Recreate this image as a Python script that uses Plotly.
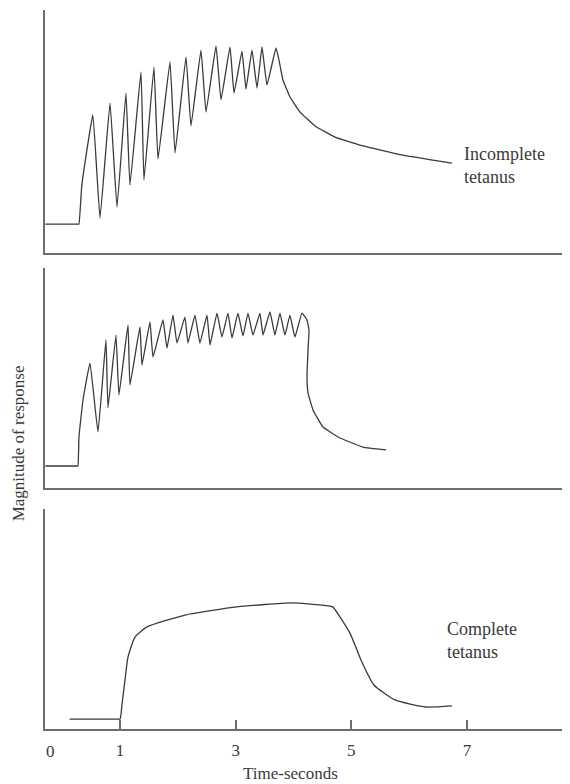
import plotly.graph_objects as go

# time axis (seconds) and magnitude of response (arbitrary units, 0-100 per panel)
t_incomplete = [-0.29, 0.27, 0.29, 0.34, 0.53, 0.654, 0.827, 0.948, 1.103, 1.172, 1.363, 1.414,
                1.587, 1.657, 1.864, 1.951, 2.141, 2.227, 2.400, 2.487, 2.660, 2.746,
                2.902, 2.971, 3.109, 3.178, 3.282, 3.369, 3.455, 3.541, 3.697,
                3.749, 3.818, 3.939, 4.112, 4.372, 4.717, 5.149, 5.841, 6.740]
m_incomplete = [11.9, 11.9, 11.9, 28.0, 56.8, 14.4, 61.7, 18.9, 65.8, 28.0, 74.5, 30.0,
                76.5, 38.7, 78.6, 41.2, 80.7, 52.3, 83.5, 58.0, 85.2, 63.0,
                84.8, 65.8, 83.1, 67.5, 83.5, 67.9, 84.8, 69.1, 84.4,
                79.4, 71.2, 64.2, 58.0, 52.3, 47.7, 44.4, 40.5, 37.0]

t_fused = [-0.29, 0.25, 0.273, 0.29, 0.36, 0.481, 0.619, 0.757, 0.792, 0.930, 0.982, 1.138, 1.172,
           1.345, 1.380, 1.518, 1.570, 1.743, 1.812, 1.916, 1.985, 2.123, 2.175,
           2.296, 2.382, 2.504, 2.556, 2.677, 2.763, 2.867, 2.936, 3.040, 3.126,
           3.213, 3.299, 3.420, 3.472, 3.593, 3.679, 3.766, 3.852, 3.938, 4.025, 4.146,
           4.233, 4.268, 4.251, 4.233, 4.251, 4.337, 4.510, 4.804, 5.202, 5.600]
m_fused = [10.0, 10.0, 10.0, 23.2, 40.0, 56.8, 25.5, 67.3, 36.4, 69.5, 42.3, 74.1, 46.8,
           73.2, 55.9, 75.5, 59.5, 76.4, 63.6, 78.6, 65.9, 77.7, 65.9,
           78.6, 65.9, 78.6, 65.0, 79.5, 68.6, 79.5, 68.2, 79.5, 69.1,
           79.5, 69.5, 79.5, 69.5, 80.0, 69.5, 79.5, 69.5, 78.6, 68.6, 79.5,
           76.4, 71.8, 62.7, 50.5, 43.2, 35.5, 27.7, 22.7, 18.6, 17.3]

t_complete = [0.128, 0.95, 1.0, 1.034, 1.086, 1.138, 1.259, 1.466, 2.123, 3.022, 3.973,
              4.630, 4.68, 4.976, 5.166, 5.391, 5.754, 6.29, 6.74]
m_complete = [4.5, 4.5, 4.5, 10.9, 22.3, 32.7, 41.8, 46.4, 51.8, 55.5, 57.3,
              55.9, 55.5, 43.6, 31.4, 20.0, 13.2, 10.0, 10.5]

tick_vals = [1, 3, 5, 7]
tick_text = ["1", "3", "5", "7"]

SERIF = "Liberation Serif, Times New Roman, serif"
AXIS = "#6e6e6e"
INK = "#3a3a3a"

fig = go.Figure()

fig.add_trace(go.Scatter(x=t_incomplete, y=m_incomplete, mode="lines",
                         line=dict(color=INK, width=1.3, shape="spline", smoothing=0.3),
                         xaxis="x3", yaxis="y3"))
fig.add_trace(go.Scatter(x=t_fused, y=m_fused, mode="lines",
                         line=dict(color=INK, width=1.3, shape="spline", smoothing=0.3),
                         xaxis="x2", yaxis="y2"))
fig.add_trace(go.Scatter(x=t_complete, y=m_complete, mode="lines",
                         line=dict(color=INK, width=1.3, shape="spline", smoothing=0.5),
                         xaxis="x", yaxis="y"))

x_range = [-0.297, 8.781]
common_y = dict(range=[0, 100], showline=True, linecolor=AXIS, linewidth=1.5,
                showgrid=False, zeroline=False, showticklabels=False, ticks="")
common_x = dict(range=x_range, showline=True, linecolor=AXIS, linewidth=1.5,
                showgrid=False, zeroline=False)

# page body has an 8px margin, so the figure is sized to fill the rest of the window
fig.update_layout(
    width=562, height=776,
    margin=dict(l=37, r=0, t=2, b=55),
    paper_bgcolor="white", plot_bgcolor="white",
    showlegend=False,
    font=dict(family=SERIF, size=17, color=INK),
    xaxis=dict(**common_x, anchor="y", tickvals=tick_vals, ticktext=tick_text,
               ticks="inside", ticklen=9, tickwidth=1.5, tickcolor=AXIS,
               ticklabelstandoff=5,
               tickfont=dict(family=SERIF, size=17, color=INK)),
    xaxis2=dict(**common_x, anchor="y2", matches="x", showticklabels=False, ticks=""),
    xaxis3=dict(**common_x, anchor="y3", matches="x", showticklabels=False, ticks=""),
    yaxis=dict(**common_y, domain=[0, 0.306], anchor="x"),
    yaxis2=dict(**common_y, domain=[0.3352, 0.6412], anchor="x2"),
    yaxis3=dict(**common_y, domain=[0.662, 1.0], anchor="x3"),
)

fig.add_annotation(text="0", x=-0.194, xref="x", y=-0.0306, yref="paper",
                   xanchor="center", yanchor="middle", showarrow=False,
                   font=dict(family=SERIF, size=17, color=INK))
fig.add_annotation(text="Time-seconds", x=0.467, xref="paper", y=-0.0612, yref="paper",
                   xanchor="center", yanchor="middle", showarrow=False,
                   font=dict(family=SERIF, size=17, color=INK))
fig.add_annotation(text="Magnitude of response", x=-0.0505, xref="paper", y=0.398,
                   yref="paper", textangle=-90, xanchor="center", yanchor="middle",
                   showarrow=False, font=dict(family=SERIF, size=17, color=INK))
fig.add_annotation(text="Incomplete<br>tetanus", x=6.91, xref="x3", y=36.2, yref="y3",
                   xanchor="left", yanchor="middle", align="left", showarrow=False,
                   font=dict(family=SERIF, size=18, color=INK))
fig.add_annotation(text="Complete<br>tetanus", x=6.62, xref="x", y=40, yref="y",
                   xanchor="left", yanchor="middle", align="left", showarrow=False,
                   font=dict(family=SERIF, size=18, color=INK))

fig.write_html("out.html")
